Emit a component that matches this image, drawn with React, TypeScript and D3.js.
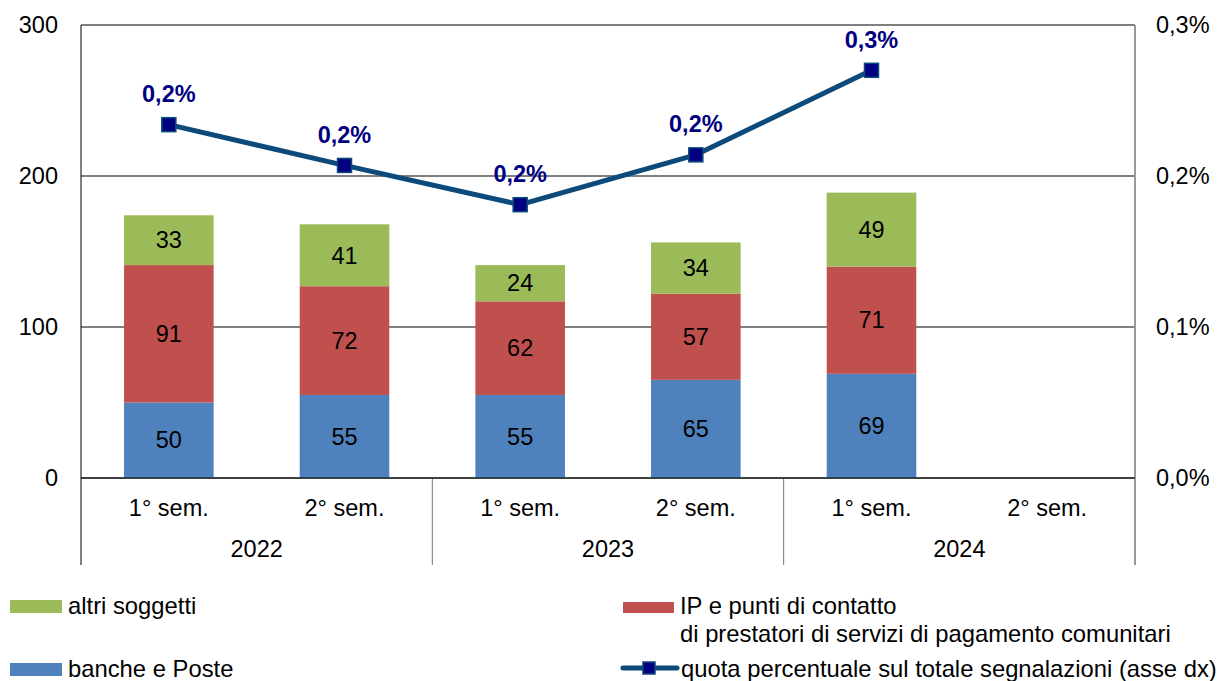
import React from 'react';
import * as d3 from 'd3';

// ---- data ----
const years = ['2022', '2023', '2024'];
const semesters = ['1° sem.', '2° sem.', '1° sem.', '2° sem.', '1° sem.', '2° sem.'];
const banche = [50, 55, 55, 65, 69];
const ipPunti = [91, 72, 62, 57, 71];
const altri = [33, 41, 24, 34, 49];
const quota = [0.234, 0.207, 0.181, 0.214, 0.27];
const leftTicks = [0, 100, 200, 300];
const rightTicks = [0, 0.1, 0.2, 0.3];

const W = 1221;
const H = 681;
const margin = { left: 81, right: 86, top: 25, bottom: 203 };
const FONT = '"Liberation Sans", Arial, sans-serif';
const AX = 23.5;
const LEG = 23.8;

const colors = {
  banche: '#4F81BD',
  ip: '#C0504D',
  altri: '#9BBB59',
  line: '#0B4A7A',
  marker: '#000080',
};

const fmtPct = (v: number) => d3.format('.1f')(v).replace('.', ',') + '%';

export default function App() {
  const x0 = margin.left;
  const x1 = W - margin.right;
  const yBottom = H - margin.bottom;

  const x = d3
    .scaleBand<number>()
    .domain(d3.range(semesters.length))
    .range([x0, x1])
    .paddingInner(0.49)
    .paddingOuter(0.245);

  const slot = (x1 - x0) / semesters.length;
  const cx = (i: number) => x0 + slot * (i + 0.5);

  const yL = d3.scaleLinear().domain([0, 300]).range([yBottom, margin.top]);
  const yR = d3.scaleLinear().domain([0, 0.3]).range([yBottom, margin.top]);

  const stackData = banche.map((b, i) => ({ i, banche: b, ip: ipPunti[i], altri: altri[i] }));
  const series = d3.stack<any>().keys(['banche', 'ip', 'altri'])(stackData);
  const seriesColor: Record<string, string> = { banche: colors.banche, ip: colors.ip, altri: colors.altri };

  const line = d3
    .line<number>()
    .x((_, i) => cx(i))
    .y((d) => yR(d));

  const axisBottomEnd = 565;

  return (
    <svg
      width={W}
      height={H}
      style={{ position: 'absolute', left: 0, top: 0, background: '#fff' }}
      fontFamily={FONT}
    >
      {/* gridlines */}
      {leftTicks.map((t) => (
        <line key={'g' + t} x1={x0} x2={x1} y1={yL(t)} y2={yL(t)} stroke="#000" strokeWidth={1} />
      ))}

      {/* bars */}
      {series.map((s) =>
        s.map((d, i) => (
          <rect
            key={s.key + i}
            x={x(i)}
            y={yL(d[1])}
            width={x.bandwidth()}
            height={yL(d[0]) - yL(d[1])}
            fill={seriesColor[s.key]}
          />
        ))
      )}

      {/* bar value labels */}
      {series.map((s) =>
        s.map((d, i) => (
          <text
            key={'v' + s.key + i}
            x={cx(i)}
            y={(yL(d[0]) + yL(d[1])) / 2}
            dy="0.35em"
            textAnchor="middle"
            fontSize={AX}
            fill="#000"
          >
            {d[1] - d[0]}
          </text>
        ))
      )}

      {/* axes lines */}
      <line x1={x0} x2={x0} y1={margin.top} y2={axisBottomEnd} stroke="#000" />
      <line x1={x1} x2={x1} y1={margin.top} y2={axisBottomEnd} stroke="#999" strokeWidth={2} />
      {[2, 4].map((k) => (
        <line key={'sep' + k} x1={x0 + slot * k} x2={x0 + slot * k} y1={yBottom} y2={axisBottomEnd} stroke="#777" />
      ))}
      <line x1={x0} x2={x1} y1={yBottom} y2={yBottom} stroke="#000" />

      {/* left ticks */}
      {leftTicks.map((t) => (
        <text key={'l' + t} x={x0 - 23} y={yL(t)} dy="0.35em" textAnchor="end" fontSize={AX} fill="#000">
          {t}
        </text>
      ))}

      {/* right ticks */}
      {rightTicks.map((t) => (
        <text key={'r' + t} x={x1 + 21} y={yR(t)} dy="0.35em" textAnchor="start" fontSize={AX} fill="#000">
          {fmtPct(t)}
        </text>
      ))}

      {/* category labels */}
      {semesters.map((s, i) => (
        <text key={'c' + i} x={cx(i)} y={508} dy="0.35em" textAnchor="middle" fontSize={AX} fill="#000">
          {s}
        </text>
      ))}
      {years.map((yr, k) => (
        <text key={'y' + yr} x={x0 + slot * (2 * k + 1)} y={549} dy="0.35em" textAnchor="middle" fontSize={AX} fill="#000">
          {yr}
        </text>
      ))}

      {/* line */}
      <path d={line(quota) || ''} fill="none" stroke={colors.line} strokeWidth={5} strokeLinejoin="round" />
      {quota.map((v, i) => (
        <rect
          key={'m' + i}
          x={cx(i) - 7}
          y={yR(v) - 7}
          width={14}
          height={14}
          fill={colors.marker}
          stroke={colors.line}
          strokeWidth={1.5}
        />
      ))}
      {quota.map((v, i) => (
        <text
          key={'ql' + i}
          x={cx(i)}
          y={yR(v) - 31}
          dy="0.35em"
          textAnchor="middle"
          fontSize={AX}
          fontWeight="bold"
          fill={colors.marker}
        >
          {fmtPct(v)}
        </text>
      ))}

      {/* legend */}
      <g fontSize={LEG} fill="#000">
        <rect x={10} y={600} width={52} height={13} fill={colors.altri} />
        <text x={68} y={614}>altri soggetti</text>

        <rect x={10} y={663} width={52} height={13} fill={colors.banche} />
        <text x={68} y={677}>banche e Poste</text>

        <rect x={623} y={602} width={51} height={11} fill={colors.ip} />
        <text x={680} y={614}>IP e punti di contatto</text>
        <text x={680} y={642}>di prestatori di servizi di pagamento comunitari</text>

        <line x1={623} x2={677} y1={668} y2={668} stroke={colors.line} strokeWidth={5} strokeLinecap="round" />
        <rect x={643} y={662} width={12} height={12} fill={colors.marker} stroke={colors.line} strokeWidth={1.5} />
        <text x={681} y={677}>quota percentuale sul totale segnalazioni (asse dx)</text>
      </g>
    </svg>
  );
}
